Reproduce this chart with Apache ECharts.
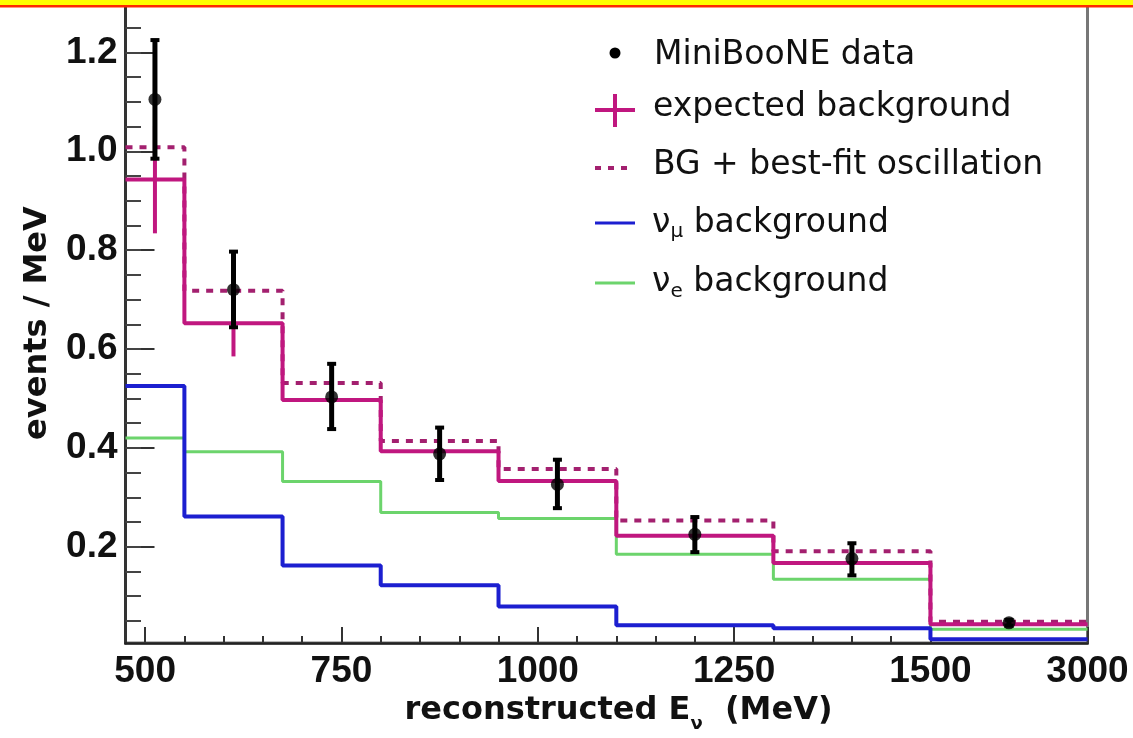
<!DOCTYPE html>
<html><head><meta charset="utf-8">
<script src="https://cdn.jsdelivr.net/npm/echarts@6/dist/echarts.min.js"></script>
<style>html,body{margin:0;padding:0;background:#fff}#c{width:1133px;height:738px}</style>
</head><body><div id="c"></div>
<script>
// ---- data ----
const binEdges    = [475, 550, 675, 800, 950, 1100, 1300, 1500, 3000];   // MeV
const dataValues  = [1.105, 0.720, 0.503, 0.388, 0.326, 0.225, 0.176, 0.046];
const dataLow     = [0.985, 0.644, 0.438, 0.335, 0.278, 0.189, 0.142, 0.040];
const dataHigh    = [1.225, 0.797, 0.570, 0.441, 0.376, 0.260, 0.207, 0.052];
const expectedBg  = [0.943, 0.652, 0.497, 0.393, 0.333, 0.222, 0.167, 0.043];
const expectedErr = [0.109, 0.067, 0, 0, 0, 0, 0, 0];
const bestFitBg   = [1.008, 0.718, 0.531, 0.414, 0.357, 0.253, 0.191, 0.048];
const numuBg      = [0.525, 0.261, 0.162, 0.122, 0.079, 0.041, 0.035, 0.013];
const nueBg       = [0.420, 0.392, 0.332, 0.269, 0.257, 0.185, 0.134, 0.033];

const xTickValues = [500, 750, 1000, 1250, 1500, 3000];
const xTickLabels = ['500', '750', '1000', '1250', '1500', '3000'];
const xMinorTicks = [500, 550, 600, 650, 700, 750, 800, 850, 900, 950, 1000, 1050, 1100, 1150, 1200, 1250, 1300, 1350, 1400, 1450, 1500];
const yTickValues = [0.2, 0.4, 0.6, 0.8, 1.0, 1.2];
const yTickLabels = ['0.2', '0.4', '0.6', '0.8', '1.0', '1.2'];
const yMinorTicks = [0.05, 0.10, 0.15, 0.20, 0.25, 0.30, 0.35, 0.40, 0.45, 0.50, 0.55, 0.60, 0.65, 0.70, 0.75, 0.80, 0.85, 0.90, 0.95, 1.00, 1.05, 1.10, 1.15, 1.20, 1.25];

// The last bin (1500-3000 MeV) is drawn compressed to the width of 200 MeV.
function xPos(e) { return e <= 1500 ? e : 1500 + (e - 1500) * 200 / 1500; }
function steps(vals) {
  const pts = [];
  vals.forEach((v, i) => { pts.push([xPos(binEdges[i]), v]); pts.push([xPos(binEdges[i + 1]), v]); });
  return pts;
}
const centers = dataValues.map((_, i) => (xPos(binEdges[i]) + xPos(binEdges[i + 1])) / 2);

const MAG = '#c0177f', DOT = '#a3206f', BLUE = '#1c1fd0', GREEN = '#6cd46c';
const tickFont = { fontFamily: 'Liberation Sans', fontWeight: 'bold', fontSize: 37, color: '#111' };

function lookup(vals, labels, v, map) {
  const i = vals.findIndex(t => Math.abs((map ? map(t) : t) - v) < 1e-6);
  return i >= 0 ? labels[i] : '';
}

const chart = echarts.init(document.getElementById('c'), null, { renderer: 'canvas' });
chart.setOption({
  animation: false,
  backgroundColor: '#fff',
  grid: { left: 125.5, right: 45.5, top: 3, bottom: 90, show: true, borderColor: '#777', borderWidth: 3, backgroundColor: 'transparent' },
  xAxis: [{
    type: 'value', min: 475, max: 1700, position: 'bottom',
    axisLine: { show: true, lineStyle: { color: '#222', width: 2.5 } },
    axisTick: { show: true, inside: true, length: 16, customValues: xTickValues.map(xPos), lineStyle: { color: '#333', width: 2 } },
    axisLabel: Object.assign({ customValues: xTickValues.map(xPos), margin: 10,
      formatter: v => lookup(xTickValues, xTickLabels, v, xPos) }, tickFont),
    splitLine: { show: false },
    name: '{a|reconstructed E}{s|ν}{a|  (MeV)}',
    nameLocation: 'middle', nameGap: 40,
    nameTextStyle: {
      padding: [0, 0, 0, 24],
      rich: {
        a: { fontFamily: 'DejaVu Sans', fontWeight: 'bold', fontSize: 32, color: '#111', verticalAlign: 'middle' },
        s: { fontFamily: 'DejaVu Sans', fontWeight: 'bold', fontSize: 18, color: '#111', verticalAlign: 'middle', padding: [26, 0, 0, 0] }
      }
    }
  }, {
    type: 'value', min: 475, max: 1700, position: 'bottom',
    axisLine: { show: false },
    axisTick: { show: true, inside: true, length: 7, customValues: xMinorTicks, lineStyle: { color: '#333', width: 2 } },
    axisLabel: { show: false }, splitLine: { show: false }
  }],
  yAxis: [{
    type: 'value', min: 0.005, max: 1.3, position: 'left',
    axisLine: { show: true, lineStyle: { color: '#333', width: 3 } },
    axisTick: { show: true, inside: true, length: 29, customValues: yTickValues, lineStyle: { color: '#333', width: 2 } },
    axisLabel: Object.assign({ customValues: yTickValues, margin: 8, padding: [12, 0, 0, 0],
      formatter: v => lookup(yTickValues, yTickLabels, v) }, tickFont),
    splitLine: { show: false },
    name: 'events / MeV', nameLocation: 'middle', nameGap: 72,
    nameTextStyle: { fontFamily: 'DejaVu Sans', fontWeight: 'bold', fontSize: 32, color: '#111' }
  }, {
    type: 'value', min: 0.005, max: 1.3, position: 'left',
    axisLine: { show: false },
    axisTick: { show: true, inside: true, length: 15.5, customValues: yMinorTicks, lineStyle: { color: '#444', width: 2 } },
    axisLabel: { show: false }, splitLine: { show: false }
  }],
  series: [
    { name: 'νe background', type: 'line', data: steps(nueBg), symbol: 'none', z: 2,
      lineStyle: { color: GREEN, width: 3 } },
    { name: 'νμ background', type: 'line', data: steps(numuBg), symbol: 'none', z: 3,
      lineStyle: { color: BLUE, width: 4 } },
    { name: 'BG + best-fit oscillation', type: 'line', data: steps(bestFitBg), symbol: 'none', z: 4,
      lineStyle: { color: DOT, width: 4, type: [7, 7] } },
    { name: 'expected background', type: 'line', data: steps(expectedBg), symbol: 'none', z: 5,
      lineStyle: { color: MAG, width: 4 } },
    { name: 'expected background error', type: 'custom', z: 6,
      data: expectedBg.map((v, i) => [centers[i], v - expectedErr[i], v + expectedErr[i]]).filter((d, i) => expectedErr[i] > 0),
      encode: { x: 0, y: [1, 2] },
      renderItem: (params, api) => {
        const a = api.coord([api.value(0), api.value(1)]), b = api.coord([api.value(0), api.value(2)]);
        return { type: 'line', shape: { x1: a[0], y1: a[1], x2: b[0], y2: b[1] }, style: { stroke: MAG, lineWidth: 4 } };
      } },
    { name: 'MiniBooNE data error', type: 'custom', z: 7,
      data: dataValues.map((v, i) => [centers[i], dataLow[i], dataHigh[i]]),
      encode: { x: 0, y: [1, 2] },
      renderItem: (params, api) => {
        const a = api.coord([api.value(0), api.value(1)]), b = api.coord([api.value(0), api.value(2)]);
        return { type: 'group', children: [
          { type: 'line', shape: { x1: a[0], y1: a[1], x2: b[0], y2: b[1] }, style: { stroke: '#000', lineWidth: 5 } },
          { type: 'rect', shape: { x: a[0] - 4.5, y: a[1] - 2, width: 9, height: 4 }, style: { fill: '#000' } },
          { type: 'rect', shape: { x: b[0] - 4.5, y: b[1] - 2, width: 9, height: 4 }, style: { fill: '#000' } }
        ] };
      } },
    { name: 'MiniBooNE data', type: 'scatter', z: 8, symbol: 'circle', symbolSize: 13,
      itemStyle: { color: '#000' },
      data: dataValues.map((v, i) => [centers[i], v]) }
  ],
  graphic: [
    { type: 'rect', z: 100, shape: { x: 0, y: 0, width: 1133, height: 7.5 }, style: { fill: '#ff2a00' } },
    { type: 'rect', z: 101, shape: { x: 0, y: 0, width: 1133, height: 5 }, style: { fill: '#ffff00' } },
    // legend
    { type: 'circle', z: 50, shape: { cx: 615, cy: 53, r: 5.5 }, style: { fill: '#000' } },
    { type: 'line', z: 50, shape: { x1: 595, y1: 110, x2: 635, y2: 110 }, style: { stroke: MAG, lineWidth: 4 } },
    { type: 'line', z: 50, shape: { x1: 615, y1: 94, x2: 615, y2: 127 }, style: { stroke: MAG, lineWidth: 4 } },
    { type: 'line', z: 50, shape: { x1: 595, y1: 168, x2: 632, y2: 168 }, style: { stroke: DOT, lineWidth: 4, lineDash: [6, 7] } },
    { type: 'line', z: 50, shape: { x1: 595, y1: 223, x2: 635, y2: 223 }, style: { stroke: BLUE, lineWidth: 3 } },
    { type: 'line', z: 50, shape: { x1: 595, y1: 283, x2: 635, y2: 283 }, style: { stroke: GREEN, lineWidth: 3 } },
    { type: 'text', z: 50, x: 654, y: 55, style: { text: 'MiniBooNE data', fontFamily: 'DejaVu Sans', fontSize: 33, fill: '#111', verticalAlign: 'middle', align: 'left' } },
    { type: 'text', z: 50, x: 653, y: 107, style: { text: 'expected background', fontFamily: 'DejaVu Sans', fontSize: 33, fill: '#111', verticalAlign: 'middle', align: 'left' } },
    { type: 'text', z: 50, x: 653, y: 165, style: { text: 'BG + best-fit oscillation', fontFamily: 'DejaVu Sans', fontSize: 33, fill: '#111', verticalAlign: 'middle', align: 'left' } },
    { type: 'text', z: 50, x: 652, y: 223, style: { text: '{n|ν}{s|μ}{n| background}', verticalAlign: 'middle', align: 'left',
      rich: { n: { fontFamily: 'DejaVu Sans', fontSize: 33, fill: '#111', verticalAlign: 'middle' },
              s: { fontFamily: 'DejaVu Sans', fontSize: 20, fill: '#111', verticalAlign: 'middle', padding: [18, 0, 0, 0] } } } },
    { type: 'text', z: 50, x: 652, y: 282, style: { text: '{n|ν}{s|e}{n| background}', verticalAlign: 'middle', align: 'left',
      rich: { n: { fontFamily: 'DejaVu Sans', fontSize: 33, fill: '#111', verticalAlign: 'middle' },
              s: { fontFamily: 'DejaVu Sans', fontSize: 20, fill: '#111', verticalAlign: 'middle', padding: [20, 0, 0, 0] } } } }
  ]
});
</script></body></html>
